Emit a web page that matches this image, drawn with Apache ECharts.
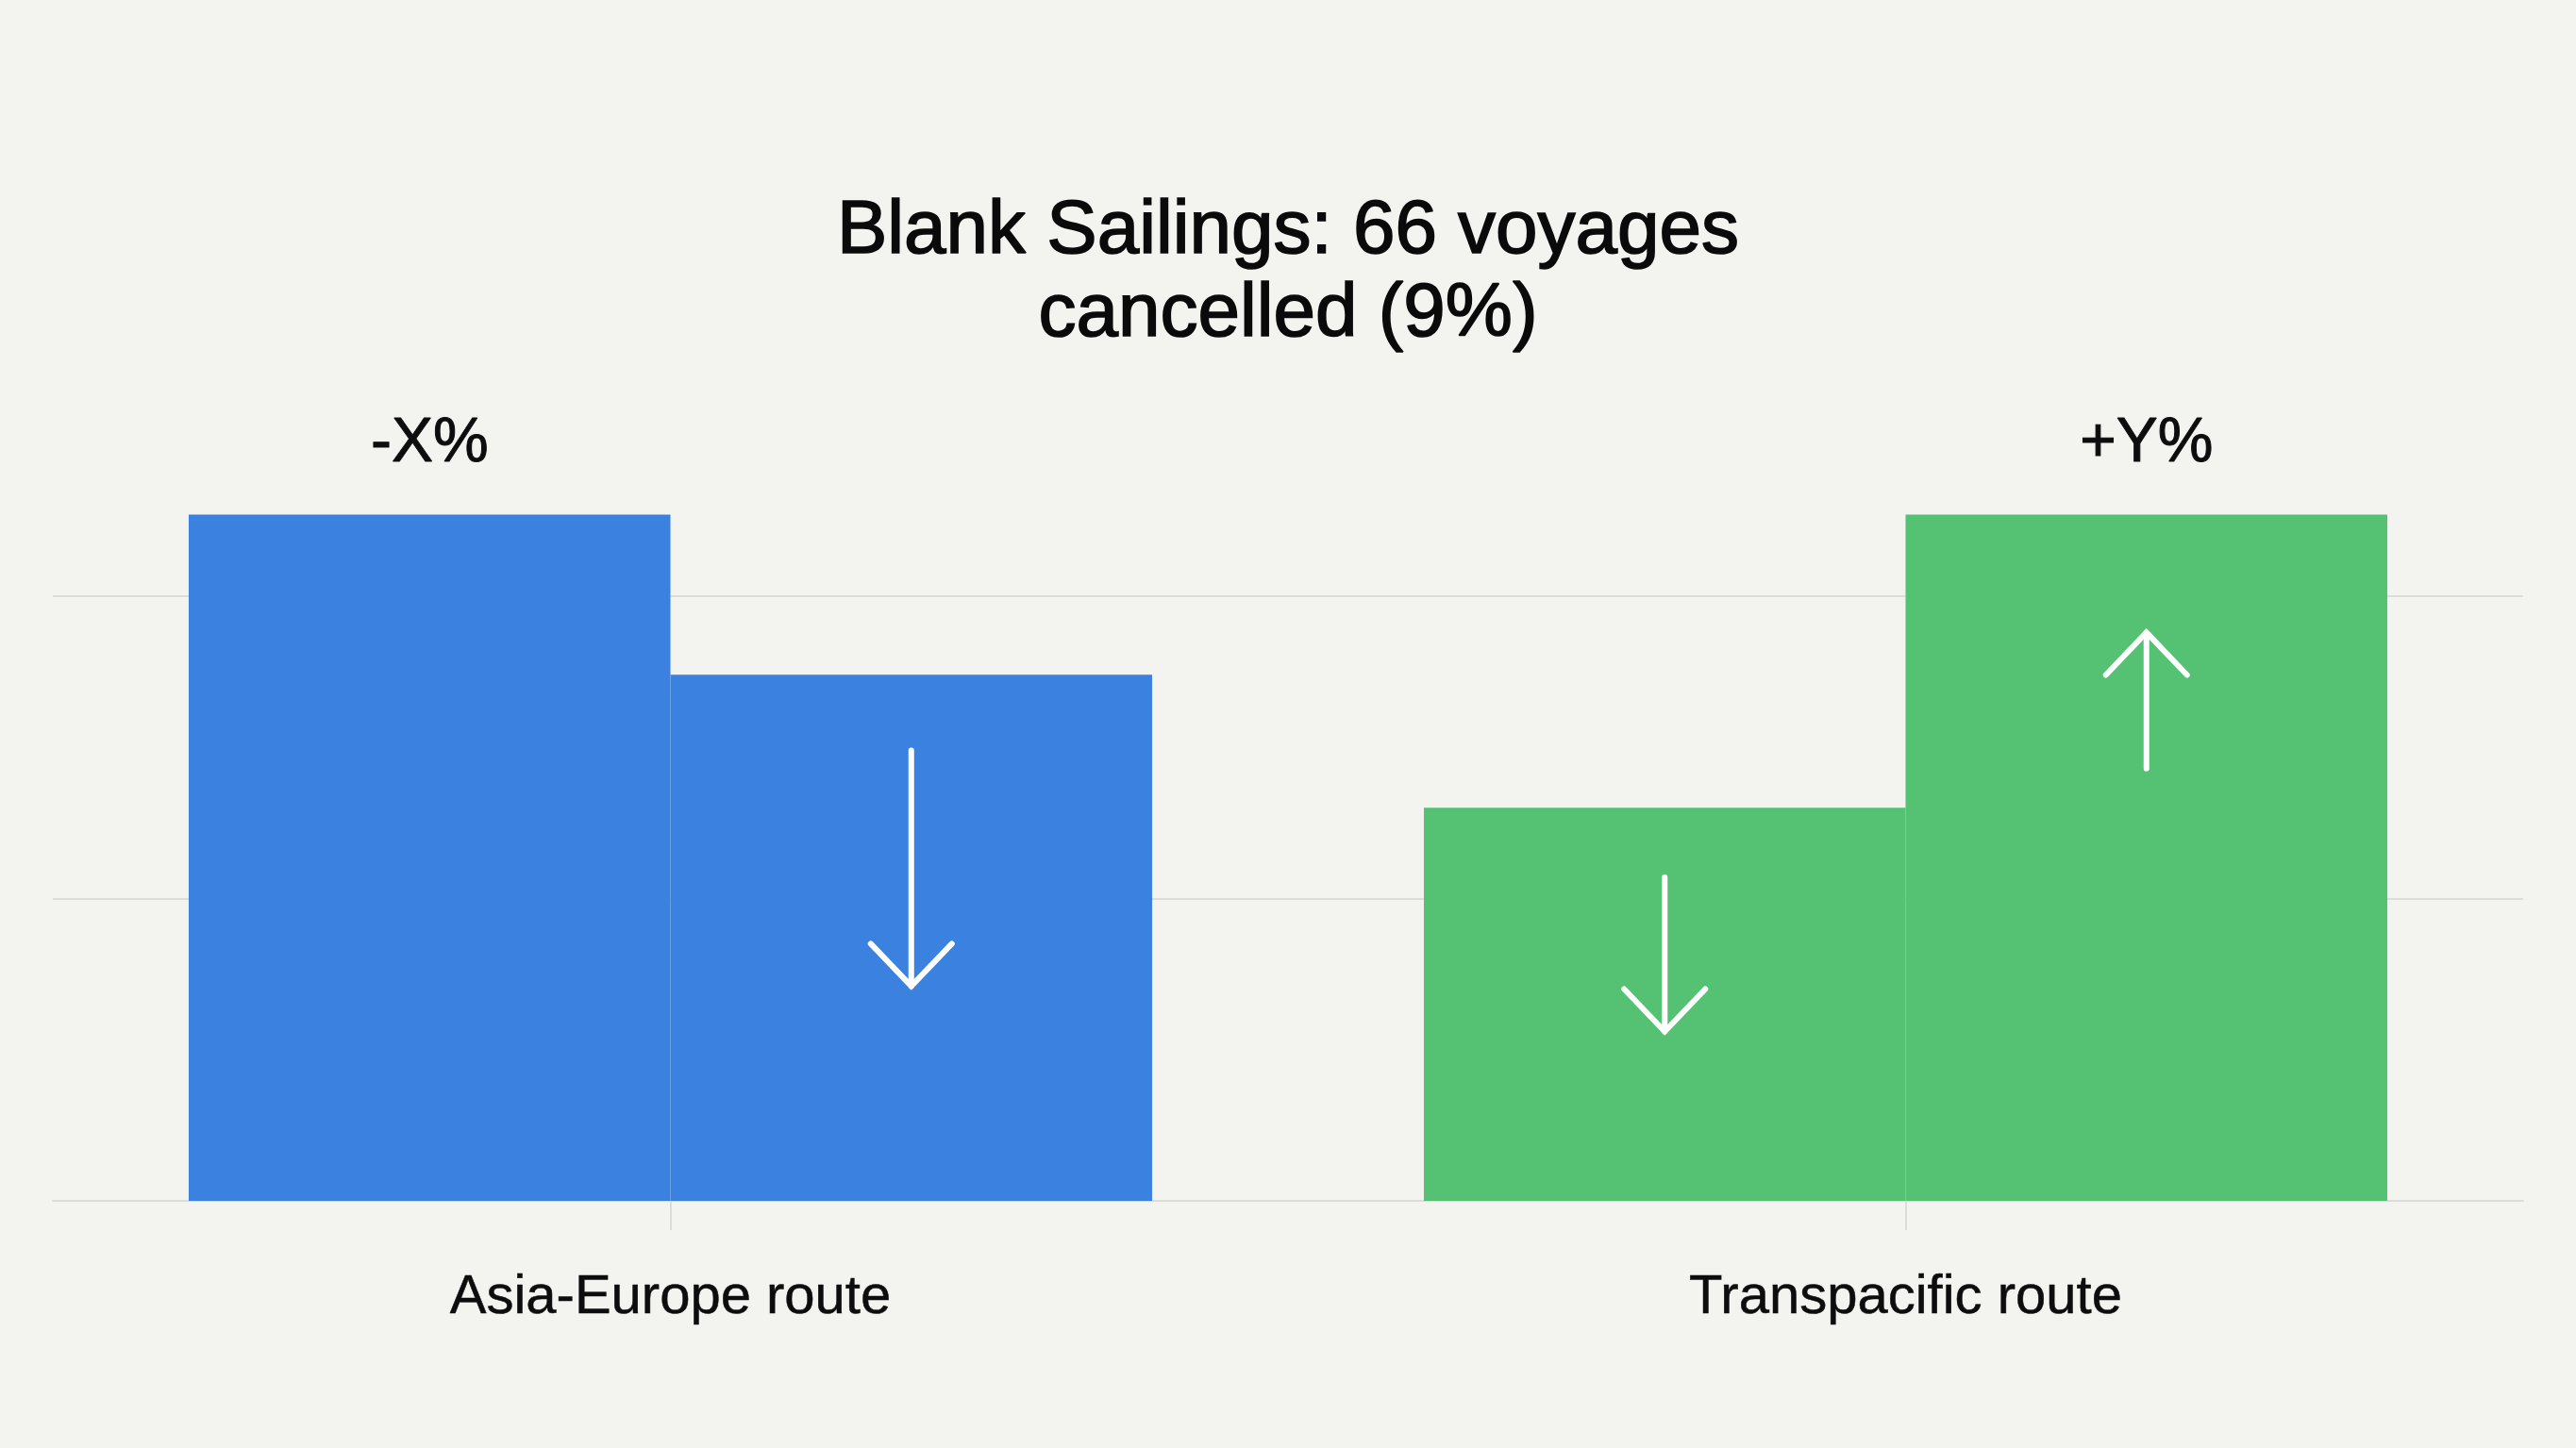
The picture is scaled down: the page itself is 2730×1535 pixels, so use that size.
<!DOCTYPE html>
<html>
<head>
<meta charset="utf-8">
<script src="https://cdn.jsdelivr.net/npm/echarts@6/dist/echarts.min.js"></script>
<style>
html,body{margin:0;padding:0;background:#f3f3f0;}
#chart{width:2730px;height:1535px;}
</style>
</head>
<body>
<div id="chart"></div>
<script>
// ---- data ----
const titleText = 'Blank Sailings: 66 voyages\ncancelled (9%)';
const categories = ['Asia-Europe route', 'Transpacific route'];
const firstBarValues = [2.27, 1.30];
const secondBarValues = [1.74, 2.27];
const firstBarLabels = ['-X%', ''];
const secondBarLabels = ['', '+Y%'];
const routeColors = ['#3b82e0', '#55c273'];
// arrows: [categoryIndex, side (-1 first bar, +1 second bar), fromValue, toValue]
const arrows = [
  [0, 1, 1.49, 0.71],
  [1, -1, 1.07, 0.56],
  [1, 1, 1.43, 1.88]
];
const yTicks = { min: 0, max: 3, interval: 1 };

const BAR_FRACTION = 0.39;

function barData(values, labels) {
  return values.map((v, i) => ({
    value: v,
    itemStyle: { color: routeColors[i] },
    label: { show: labels[i] !== '', formatter: labels[i] }
  }));
}

const labelStyle = {
  position: 'top',
  distance: 37,
  fontFamily: 'Liberation Sans, Arial, sans-serif',
  fontSize: 66,
  lineHeight: 76,
  color: '#0d0d0d',
  textBorderColor: '#0d0d0d',
  textBorderWidth: 1
};

const chart = echarts.init(document.getElementById('chart'), null, { renderer: 'canvas' });
chart.setOption({
  backgroundColor: '#f3f3f0',
  animation: false,
  title: {
    text: titleText,
    left: 'center',
    top: 197,
    textStyle: {
      fontFamily: 'Liberation Sans, Arial, sans-serif',
      fontSize: 80,
      fontWeight: 'normal',
      lineHeight: 88,
      color: '#0a0a0a',
      textBorderColor: '#0a0a0a',
      textBorderWidth: 1.6
    }
  },
  grid: { left: 56, right: 56, top: 311.5, bottom: 262, containLabel: false },
  xAxis: {
    type: 'category',
    data: categories,
    axisLine: { show: true, lineStyle: { color: '#dcdcd8', width: 2 } },
    axisTick: { show: true, alignWithLabel: true, length: 31, lineStyle: { color: '#dcdcd8', width: 2 } },
    axisLabel: {
      margin: 70,
      fontFamily: 'Liberation Sans, Arial, sans-serif',
      fontSize: 58,
      lineHeight: 66,
      color: '#0d0d0d',
      textBorderColor: '#0d0d0d',
      textBorderWidth: 0.5
    },
    splitLine: { show: false }
  },
  yAxis: {
    type: 'value',
    min: yTicks.min,
    max: yTicks.max,
    interval: yTicks.interval,
    axisLine: { show: false },
    axisTick: { show: false },
    axisLabel: { show: false },
    splitLine: { show: true, showMaxLine: false, lineStyle: { color: '#dcdcd8', width: 2 } }
  },
  series: [
    {
      type: 'bar',
      barWidth: (BAR_FRACTION * 100) + '%',
      barGap: '0%',
      data: barData(firstBarValues, firstBarLabels),
      label: labelStyle,
      z: 2
    },
    {
      type: 'bar',
      barWidth: (BAR_FRACTION * 100) + '%',
      barGap: '0%',
      data: barData(secondBarValues, secondBarLabels),
      label: labelStyle,
      z: 2
    },
    {
      type: 'custom',
      data: arrows,
      encode: { x: 0, y: [2, 3] },
      z: 10,
      silent: true,
      renderItem: function (params, api) {
        const cat = api.value(0);
        const side = api.value(1);
        const p0 = api.coord([cat, api.value(2)]);
        const p1 = api.coord([cat, api.value(3)]);
        const band = api.size([1, 0])[0];
        const x = p0[0] + side * band * BAR_FRACTION / 2;
        const dir = p1[1] > p0[1] ? 1 : -1;
        const hw = 43, hh = 45;
        const tipY = p1[1];
        const style = { stroke: '#ffffff', lineWidth: 6, fill: null, lineCap: 'round', lineJoin: 'miter' };
        return {
          type: 'group',
          children: [
            { type: 'line', shape: { x1: x, y1: p0[1], x2: x, y2: tipY }, style: style },
            { type: 'polyline', shape: { points: [[x - hw, tipY - dir * hh], [x, tipY], [x + hw, tipY - dir * hh]] }, style: style }
          ]
        };
      }
    }
  ]
});
</script>
</body>
</html>
